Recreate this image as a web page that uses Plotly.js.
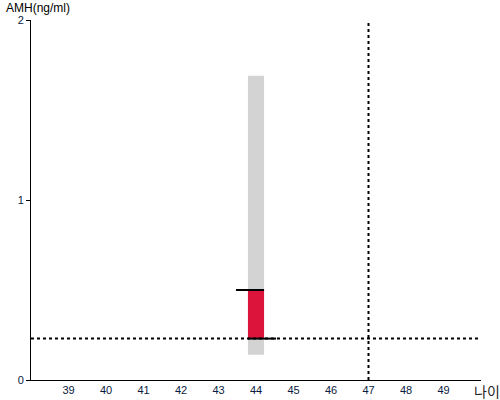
<!DOCTYPE html>
<html><head><meta charset="utf-8">
<script src="https://cdn.plot.ly/plotly-3.0.1.min.js"></script>
<style>html,body{margin:0;padding:0;background:#fff}</style>
</head><body><div id="chart" style="width:500px;height:400px"></div>
<script>
const age = 44;
const barWidth = 0.43;
const rangeLow = 0.14, rangeHigh = 1.69;
const valueLow = 0.23, valueHigh = 0.5;
const refAMH = 0.23;
const refAge = 47;
const xTicks = [39,40,41,42,43,44,45,46,47,48,49];
const yTicks = [0,1,2];
const xRange = [38,50], yRange = [0,2];

const half = barWidth/2;
const traces = [
  {type:'bar', x:[age], base:[rangeLow], y:[rangeHigh-rangeLow], width:[barWidth],
   marker:{color:'#d3d3d3'}, hoverinfo:'skip'},
  {type:'bar', x:[age], base:[valueLow], y:[valueHigh-valueLow], width:[barWidth],
   marker:{color:'#dc143c'}, hoverinfo:'skip'},
  {type:'scatter', mode:'lines', x:[age-half-0.32, age+half], y:[valueHigh, valueHigh],
   line:{color:'#000', width:2}},
  {type:'scatter', mode:'lines', x:[age-half, age+half+0.32], y:[valueLow, valueLow],
   line:{color:'#000', width:2}},
  {type:'scatter', mode:'lines', x:xRange, y:[refAMH, refAMH],
   line:{color:'#000', width:2, dash:'dot'}},
  {type:'scatter', mode:'lines', x:[refAge, refAge], y:yRange,
   line:{color:'#000', width:2, dash:'dot'}}
];
const layout = {
  width:500, height:400, showlegend:false, barmode:'overlay',
  margin:{l:31, r:19, t:20, b:20},
  paper_bgcolor:'#fff', plot_bgcolor:'#fff',
  font:{family:'Liberation Sans, Arial, sans-serif', size:11, color:'#000'},
  xaxis:{range:xRange, tickvals:xTicks, ticktext:xTicks.map(String), showgrid:false, zeroline:false,
    showline:true, linecolor:'#000', linewidth:1, ticks:'', tickfont:{size:11, color:'#0a1a40'}},
  yaxis:{range:yRange, tickvals:yTicks, showgrid:false, zeroline:false,
    showline:true, linecolor:'#000', linewidth:1, ticks:'outside', ticklen:4, tickcolor:'#000',
    tickfont:{size:11, color:'#0a1a40'}},
  annotations:[
    {text:'AMH(ng/ml)', xref:'paper', yref:'paper', x:-0.06, y:1.0, yshift:12, xanchor:'left', yanchor:'middle',
     showarrow:false, font:{size:12}},
    {text:'나이', xref:'paper', yref:'paper', x:1.0, y:0, yshift:-11, xshift:-9, xanchor:'left', yanchor:'middle',
     showarrow:false, font:{size:14, family:'Noto Sans CJK KR', color:'#222'}}
  ]
};
Plotly.newPlot('chart', traces, layout, {displayModeBar:false, staticPlot:true});
</script></body></html>
